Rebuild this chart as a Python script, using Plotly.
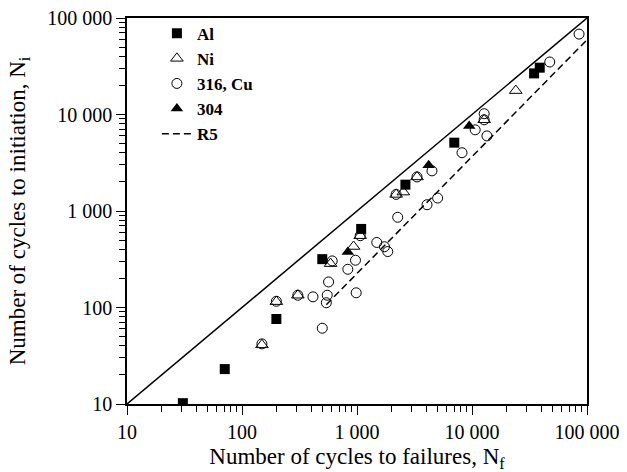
import plotly.graph_objects as go

# ---- data ----
al_nf = [30.6, 70.8, 199, 499, 1087, 2636, 7014, 34670, 38820]
al_ni = [10.2, 23, 76, 317, 652, 1875, 5107, 26670, 30560]

ni_nf = [149, 199, 306, 589, 933, 1067, 2188, 2530, 3325, 12760, 24030]
ni_ni = [41, 115, 134, 285, 429, 555, 1486, 1571, 2254, 8810, 17700]

cu_nf = [149, 199, 306, 414, 551, 541, 499, 566, 609, 832, 970, 984, 1067,
         1486, 1733, 1851, 2259, 2188, 3325, 4063, 5025, 4487, 8186, 10660,
         12760, 12760, 13490, 47440, 85300]
cu_ni = [42, 116, 134, 129, 134, 112, 61, 184, 304, 249, 309, 142, 555,
         472, 426, 380, 861, 1486, 2254, 1161, 1362, 2606, 4017, 6940,
         10190, 8810, 5997, 35000, 68100]

s304_nf = [832, 4200, 9462]
s304_ni = [377, 2986, 7620]

r5_nf = [541, 100000]
r5_ni = [107, 59400]

unity = [10, 100000]

tick_vals = [10, 100, 1000, 10000, 100000]
tick_text = ["10", "100", "1 000", "10 000", "100 000"]
minor_vals = [m * d for d in [10, 100, 1000, 10000] for m in range(2, 10)]

FONT = "Liberation Serif"

fig = go.Figure()

fig.add_trace(go.Scatter(x=unity, y=unity, mode="lines",
                         line=dict(color="black", width=1.5),
                         showlegend=False, hoverinfo="skip"))
fig.add_trace(go.Scatter(x=r5_nf, y=r5_ni, mode="lines", name="R5",
                         line=dict(color="black", width=1.5, dash="7px,4px"),
                         legendrank=5))
fig.add_trace(go.Scatter(x=cu_nf, y=cu_ni, mode="markers", name="316, Cu",
                         marker=dict(symbol="circle-open", size=10, color="black",
                                     line=dict(width=1)),
                         legendrank=3))
fig.add_trace(go.Scatter(x=ni_nf, y=ni_ni, mode="markers", name="Ni",
                         marker=dict(symbol="triangle-up-open", size=11, color="black",
                                     line=dict(width=1)),
                         legendrank=2))
fig.add_trace(go.Scatter(x=s304_nf, y=s304_ni, mode="markers", name="304",
                         marker=dict(symbol="triangle-up", size=11, color="black"),
                         legendrank=4))
fig.add_trace(go.Scatter(x=al_nf, y=al_ni, mode="markers", name="Al",
                         marker=dict(symbol="square", size=10, color="black"),
                         legendrank=1))

axis_common = dict(
    type="log", range=[1, 5], tickmode="array", tickvals=tick_vals, ticktext=tick_text,
    ticks="outside", ticklen=9, tickwidth=1.2, tickcolor="black",
    showline=True, linecolor="black", linewidth=1.5, mirror=True,
    showgrid=False, zeroline=False, automargin=False,
    tickfont=dict(family=FONT, size=20, color="black"),
    minor=dict(tickmode="array", tickvals=minor_vals, ticks="outside",
               ticklen=6, tickwidth=1, tickcolor="black", showgrid=False),
)

fig.update_xaxes(**axis_common,
                 title=dict(text="Number of cycles to failures, N<sub>f</sub>",
                            font=dict(family=FONT, size=23, color="black")))
fig.update_yaxes(**axis_common,
                 title=dict(text="Number of cycles to initiation, N<sub>i</sub>",
                            font=dict(family=FONT, size=23, color="black")))

fig.update_layout(
    width=627, height=472,
    margin=dict(l=127, r=40, t=18, b=68),
    paper_bgcolor="white", plot_bgcolor="white",
    showlegend=True,
    legend=dict(x=0.065, y=1.006, xanchor="left", yanchor="top",
                bgcolor="rgba(0,0,0,0)", borderwidth=0,
                font=dict(family=FONT, size=17, color="black", weight="bold"),
                traceorder="normal"),
)

fig.write_html("out.html")
